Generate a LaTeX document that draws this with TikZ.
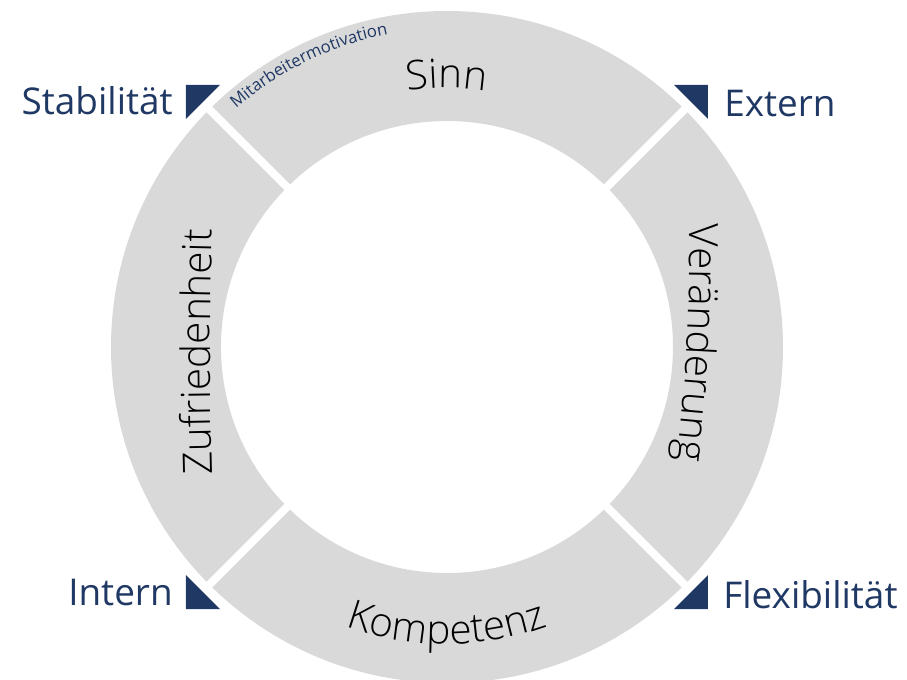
\documentclass[tikz,border=0pt]{standalone}
\usepackage{fontspec}
\setmainfont{Open Sans}
\newfontfamily\thinfont{Open Sans Light}
\usetikzlibrary{decorations.text}
\definecolor{ringgray}{RGB}{217,217,217}
\definecolor{navy}{RGB}{31,56,100}
\newcommand{\seglbl}{\thinfont\fontsize{23}{27}\selectfont}
\newcommand{\outlbl}{\fontsize{21}{25}\selectfont}
\newcommand{\smalllbl}{\color{navy}\fontsize{9.5}{11}\selectfont}

\begin{document}
\begin{tikzpicture}[x=0.02cm, y=0.02cm,
    outer/.style={text=navy, inner sep=0pt, font=\outlbl},
    gap/.style={white, line width=4.5pt},
    marker/.style={fill=navy}]
  \useasboundingbox (-447,-333) rectangle (460,347);

  % ring and gaps
  \fill[ringgray, even odd rule] (0,0) circle (336) (0,0) circle (226);
  \foreach \a in {45,135,225,315}
    \draw[gap] (\a:220) -- (\a:342);

  % corner markers
  \foreach \sx/\sy/\n in {-1/1/tl, 1/1/tr, -1/-1/bl, 1/-1/br} {
    \coordinate (\n) at (\sx*261,\sy*262);
    \fill[marker] (\n) -- ++(-\sx*34,0) -- ++(\sx*34,-\sy*34) -- cycle;
  }

  % labels outside
  \node[outer, anchor=base east] (stab)  at (-274, 232) {Stabilität};
  \node[outer, anchor=base west] (ext)   at (277, 230)  {Extern};
  \node[outer, anchor=base east] (intr)  at (-274,-258) {Intern};
  \node[outer, anchor=base west] (flex)  at (276,-261)  {Flexibilität};

  % labels on the ring
  \path[decorate, decoration={text along path, text align=center,
      text={|\seglbl|Sinn}}]
    (120:259) arc[start angle=120, end angle=60, radius=259];
  \path[decorate, decoration={text along path, text align=center,
      text={|\seglbl|Veränderung}}]
    (243,160) .. controls (242,5) .. (227,-150);
  \path[decorate, decoration={text along path, text align=center,
      text={|\seglbl|Kompetenz}}]
    (215:297) arc[start angle=215, end angle=325, radius=297];
  \path[decorate, decoration={text along path, text align=center,
      text={|\seglbl|Zufriedenheit}}]
    (-234,-165) .. controls (-238,-5) .. (-234,155);
  \path[decorate, decoration={text along path,
      text={|\smalllbl|Mitarbeitermotivation}}]
    (131.5:318) arc[start angle=131.5, end angle=80, radius=318];
\end{tikzpicture}
\end{document}
